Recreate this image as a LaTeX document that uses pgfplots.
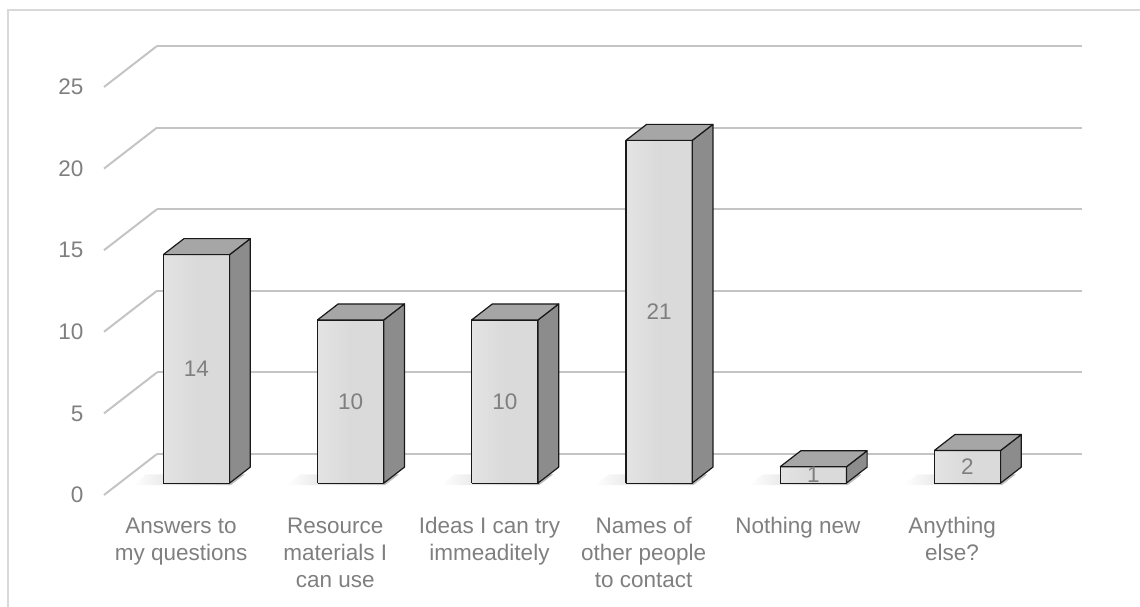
\documentclass[border=0pt]{standalone}
\usepackage{fontspec}
\setmainfont{Liberation Sans}
\usepackage{pgfplots}
\usepackage{pgfplotstable}
\pgfplotsset{compat=1.18}
\definecolor{txt}{HTML}{7F7F7F}
\definecolor{gridc}{HTML}{C4C4C4}
\definecolor{frontc}{HTML}{DADADA}
\definecolor{topc}{HTML}{A6A6A6}
\definecolor{sidec}{HTML}{8C8C8C}
\definecolor{framec}{HTML}{D9D9D9}

\pgfplotstableread{
idx value
0 14
1 10
2 10
3 21
4 1
5 2
}\datatable

\pgfplotsset{
  barface/.style={draw=black!90, line width=1.2pt, line join=round, mark=none},
  frontface/.style={barface, left color=frontc!75!white, right color=frontc, middle color=frontc},
  sideface/.style={barface, fill=sidec},
  topface/.style={barface, fill=topc},
  shadowface/.style={draw=none, mark=none, left color=white, right color=black!28},
  barlabel/.style={draw=none, mark=none, nodes near coords={\pgfmathprintnumber[assume math mode=true]{\pgfplotspointmeta}},
    point meta=explicit,
    every node near coord/.append style={anchor=center, font=\fontsize{22.5}{27}\selectfont, text=txt}},
}

\begin{document}
\begin{tikzpicture}
\begin{axis}[
  x={(154.2pt,0pt)}, y={(53pt,41pt)}, z={(0pt,16.32pt)},
  xmin=0, xmax=6, ymin=0, ymax=1, zmin=0, zmax=25,
  axis line style={draw=none},
  xmajorgrids=false, ymajorgrids=false, zmajorgrids=true,
  major grid style={gridc, line width=2pt},
  ztick={0,5,...,25},
  xtick={0.5,1.5,...,5.5},
  xticklabels={{Answers to\\my questions},{Resource\\materials I\\can use},{Ideas I can try\\immeaditely},{Names of\\other people\\to contact},{Nothing new},{Anything\\else?}},
  ytick=\empty,
  major tick length=0pt,
  tick label style={font=\fontsize{22.5}{27}\selectfont, text=txt},
  xticklabel style={align=center, anchor=north, yshift=-19pt},
  zticklabel style={anchor=east, xshift=-17pt},
  /pgf/number format/assume math mode=true,
  clip=false,
]
\coordinate (O) at (axis cs:0,0,0);
\pgfplotsinvokeforeach{0,...,5}{
  \pgfplotstablegetelem{#1}{value}\of\datatable
  \edef\v{\pgfplotsretval}
  \pgfmathsetmacro\xl{#1+0.285}
  \pgfmathsetmacro\xr{#1+0.715}
  \pgfmathsetmacro\xc{#1+0.5}
  \pgfmathsetmacro\xs{#1+0.1}
  \pgfmathsetmacro\xsr{#1+0.74}
  \pgfmathsetmacro\vh{\v/2}
  \edef\cmd{%
    \noexpand\addplot3[shadowface] coordinates {(\xs,0.24,0) (\xsr,0.24,0) (\xsr,0.5,0) (\xs,0.5,0) (\xs,0.24,0)};
    \noexpand\addplot3[frontface] coordinates {(\xl,0.29,0) (\xr,0.29,0) (\xr,0.29,\v) (\xl,0.29,\v) (\xl,0.29,0)};
    \noexpand\addplot3[sideface] coordinates {(\xr,0.29,0) (\xr,0.68,0) (\xr,0.68,\v) (\xr,0.29,\v) (\xr,0.29,0)};
    \noexpand\addplot3[topface] coordinates {(\xl,0.29,\v) (\xr,0.29,\v) (\xr,0.68,\v) (\xl,0.68,\v) (\xl,0.29,\v)};
    \noexpand\addplot3[barlabel] coordinates {(\xc,0.29,\vh) [\v]};
  }
  \cmd
}
\end{axis}
\path (O) ++(-104pt,495pt) coordinate (TL);
\draw[framec, line width=1.2pt] (TL) ++(8pt,-650pt) -- ++(0,640pt) -- ++(1200pt,0);
\pgfresetboundingbox
\path[use as bounding box] (TL) rectangle ++(1140pt,-607pt);
\end{tikzpicture}
\end{document}
